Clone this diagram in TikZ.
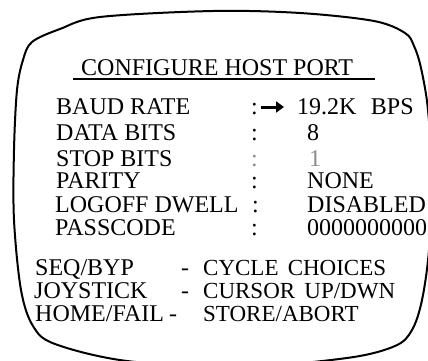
\documentclass[tikz,border=0pt]{standalone}
\usepackage{fontspec}
\setmainfont{Liberation Serif}
\usepackage{tikz}
\usetikzlibrary{arrows.meta,positioning,calc}

\tikzset{
  screen/.style={line width=2pt, line join=round},
  menutext/.style={inner sep=0pt, anchor=base west, font=\fontsize{24}{24}\selectfont},
  keytext/.style={menutext, font=\fontsize{23}{23}\selectfont},
  faint/.style={menutext, text=black!45},
  pointer/.style={line width=3pt, -{Triangle[length=8pt,width=11pt]}}
}

\begin{document}
\begin{tikzpicture}[x=1pt, y=-1pt]
\useasboundingbox (0,0) rectangle (428,361);
%Screen outline
\draw[screen] plot[smooth cycle, tension=0.55] coordinates {
  (32,42) (60,29) (100,17) (213,11) (300,13) (374,21) (405,33) (414,46)
  (421,68) (428,110) (432,180) (429,250) (422,300) (412,330) (395,346)
  (347,358) (240,367) (127,361) (55,344) (33,326) (21,290) (14,220)
  (14,150) (17,90) (23,60)};
%Title
\node[menutext] (title) at (81,75) {CONFIGURE HOST PORT};
\coordinate (ulA) at (73,79);
\coordinate (ulB) at (375,79);
\draw[line width=1.5pt] (ulA) -- (ulB);
%Settings
\node[menutext] (lbaud)   at (56,114) {BAUD RATE};
\node[menutext] (ldata)   at (56,140) {DATA BITS};
\node[menutext] (lstop)   at (56,166) {STOP BITS};
\node[menutext] (lparity) at (56,188) {PARITY};
\node[menutext] (llogoff) at (55,212) {LOGOFF DWELL};
\node[menutext] (lpass)   at (55,235) {PASSCODE};
\node[menutext] (cbaud)   at (251,114) {:};
\node[menutext] (cdata)   at (251,140) {:};
\node[faint]    (cstop)   at (251,166) {:};
\node[menutext] (cparity) at (251,188) {:};
\node[menutext] (clogoff) at (252,212) {:};
\node[menutext] (cpass)   at (251,235) {:};
\node[menutext] (vbaud)   at (297,114) {19.2K\hspace{0.6em}BPS};
\node[menutext] (vdata)   at (307,140) {8};
\node[faint]    (vstop)   at (309,166) {1};
\node[menutext] (vparity) at (307,188) {NONE};
\node[menutext] (vlogoff) at (307,212) {DISABLED};
\node[menutext] (vpass)   at (307,235) {0000000000};
\coordinate (arrA) at (261,107);
\coordinate (arrB) at (284,107);
\draw[pointer] (arrA) -- (arrB);
%Keys
\node[menutext] (kseq)  at (35,275) {SEQ/BYP};
\node[menutext] (kjoy)  at (34,298) {JOYSTICK};
\node[menutext] (khome) at (35,321) {HOME/FAIL};
\node[menutext] (dseq)  at (181,275) {-};
\node[menutext] (djoy)  at (181,298) {-};
\node[menutext] (dhome) at (169,321) {-};
\node[keytext]  (aseq)  at (203,275) {CYCLE\hspace{0.4em}CHOICES};
\node[keytext]  (ajoy)  at (203,298) {CURSOR\hspace{0.4em}UP/DWN};
\node[keytext]  (ahome) at (203,321) {STORE/ABORT};
\end{tikzpicture}
\end{document}
